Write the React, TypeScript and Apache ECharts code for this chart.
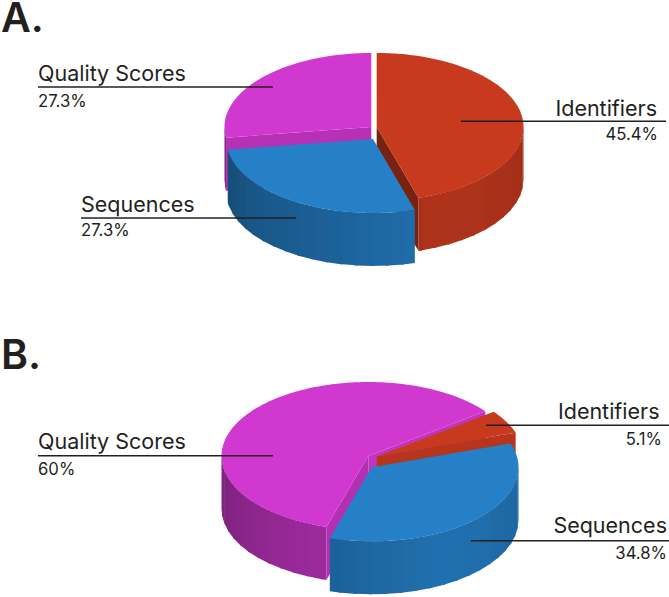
import React, { useEffect, useRef } from "react";
import * as echarts from "echarts";

const categories = ["Identifiers", "Sequences", "Quality Scores"];
const valuesA = [45.4, 27.3, 27.3];
const valuesB = [5.1, 34.8, 60];
const valueLabelsA = ["45.4%", "27.3%", "27.3%"];
const valueLabelsB = ["5.1%", "34.8%", "60%"];
const drawOrder = [2, 0, 1];
const topColors = [
  [200, 58, 30],
  [37, 128, 200],
  [208, 56, 208],
];
const RX = 146.8;
const RY = 74;
const DEPTH = 53;
const INK = "#231f20";
const FONT = "Inter";

const layoutA = {
  startAngle: 0,
  centers: [[376.7, 127], [373, 139], [371.3, 127]],
};
const layoutB = {
  startAngle: 52.8,
  centers: [[376.7, 456.5], [371.7, 467.3], [368.3, 456]],
};

const rad = (d: number) => (d * Math.PI) / 180;
const rgb = (c: number[], f: number) =>
  `rgb(${c.map((v) => Math.round(v * f)).join(",")})`;

function wallFactor(t: number) {
  return t < 150 ? 0.88 - (0.12 * (150 - t)) / 80 : 0.88 - (0.28 * (t - 150)) / 112;
}
function radialFactor(n: number) {
  return n >= 150 ? 0.95 - (0.35 * (n - 150)) / 103 : 0.95 - (0.09 * (150 - n)) / 43;
}

function pieSeries(values: number[], layout: { startAngle: number; centers: number[][] }) {
  const total = values.reduce((a, b) => a + b, 0);
  const starts: number[] = [];
  let acc = layout.startAngle;
  values.forEach((v) => {
    starts.push(acc);
    acc += (v / total) * 360;
  });
  const data = drawOrder.map((i) => ({ name: categories[i], value: [i, values[i]] }));
  return {
    type: "custom",
    coordinateSystem: "none",
    silent: true,
    data,
    renderItem: (_p: any, api: any) => {
      const i = api.value(0);
      const v = api.value(1);
      const t0 = starts[i];
      const t1 = t0 + (v / total) * 360;
      const [cx, cy] = layout.centers[i];
      const pt = (t: number, dy = 0) => [
        cx + RX * Math.sin(rad(t)),
        cy - RY * Math.cos(rad(t)) + dy,
      ];
      const children: any[] = [];
      const poly = (points: number[][], fill: string) =>
        children.push({
          type: "polygon",
          shape: { points },
          style: { fill, stroke: null },
        });
      const radial = (t: number, normal: number) => {
        const n = ((normal % 360) + 360) % 360;
        if (n <= 90 || n >= 270) return;
        poly(
          [[cx, cy], pt(t), pt(t, DEPTH), [cx, cy + DEPTH]],
          rgb(topColors[i], radialFactor(n)),
        );
      };
      radial(t0, t0 - 90);
      radial(t1, t1 + 90);
      for (const off of [0, 360]) {
        const a = Math.max(t0, 90 + off);
        const b = Math.min(t1, 270 + off);
        if (a >= b) continue;
        const STEP = 6;
        let s = a;
        while (s < b) {
          const e = Math.min(b, (Math.floor(s / STEP) + 1) * STEP);
          const eo = Math.min(b, e + 1);
          const mid = (s + e) / 2 - off;
          poly([pt(s), pt(eo), pt(eo, DEPTH), pt(s, DEPTH)], rgb(topColors[i], wallFactor(mid)));
          s = e;
        }
      }
      const top: number[][] = [[cx, cy]];
      for (let t = t0; t < t1; t += 1) top.push(pt(t));
      top.push(pt(t1));
      poly(top, rgb(topColors[i], 1));
      return { type: "group", children };
    },
  };
}

// baseline is the text's alphabetic line; the line box is placed by its top and
// its middle lies 0.38 em above that baseline
function txt(x: number, baseline: number, text: string, size: number, align = "left", weight = 400) {
  const lineHeight = Math.round(size * 0.8);
  return {
    type: "text",
    x,
    y: baseline - 0.38 * size - lineHeight / 2,
    z: 100,
    style: {
      text,
      fill: INK,
      font: `${weight} ${size}px ${FONT}, sans-serif`,
      textAlign: align,
      textVerticalAlign: "top",
      lineHeight,
    },
  };
}
function rule(x1: number, x2: number, y: number) {
  return {
    type: "line",
    z: 100,
    shape: { x1, y1: y, x2, y2: y },
    style: { stroke: INK, lineWidth: 1.4 },
  };
}

const NAME = 21.5;
const PCT = 16.7;
const HEAD = 41;

export default function App() {
  const ref = useRef<HTMLDivElement>(null);
  useEffect(() => {
    if (!ref.current) return;
    const chart = echarts.init(ref.current, undefined, { renderer: "svg" });
    chart.setOption({
      animation: false,
      backgroundColor: "#ffffff",
      series: [pieSeries(valuesA, layoutA), pieSeries(valuesB, layoutB)],
      graphic: {
        elements: [
          txt(1, 33, "A.", HEAD, "left", 600),
          txt(1, 369.5, "B.", HEAD, "left", 600),
          txt(38, 81, categories[2], NAME),
          rule(38, 273, 87),
          txt(38, 107, valueLabelsA[2], PCT),
          txt(657, 116, categories[0], NAME, "right"),
          rule(461, 666, 121.3),
          txt(658, 140, valueLabelsA[0], PCT, "right"),
          txt(81, 211.7, categories[1], NAME),
          rule(81, 296, 218),
          txt(81, 236.7, valueLabelsA[1], PCT),
          txt(38, 449.3, categories[2], NAME),
          rule(38, 273, 455.7),
          txt(38, 475.7, valueLabelsB[2], PCT),
          txt(659.5, 419, categories[0], NAME, "right"),
          rule(486, 669, 425.3),
          txt(662, 445, valueLabelsB[0], PCT, "right"),
          txt(667, 533, categories[1], NAME, "right"),
          rule(471, 669, 540.7),
          txt(667, 559.3, valueLabelsB[1], PCT, "right"),
        ],
      },
    });
    return () => chart.dispose();
  }, []);
  return (
    <div
      ref={ref}
      style={{ position: "absolute", left: 0, top: 0, width: 669, height: 597 }}
    />
  );
}
